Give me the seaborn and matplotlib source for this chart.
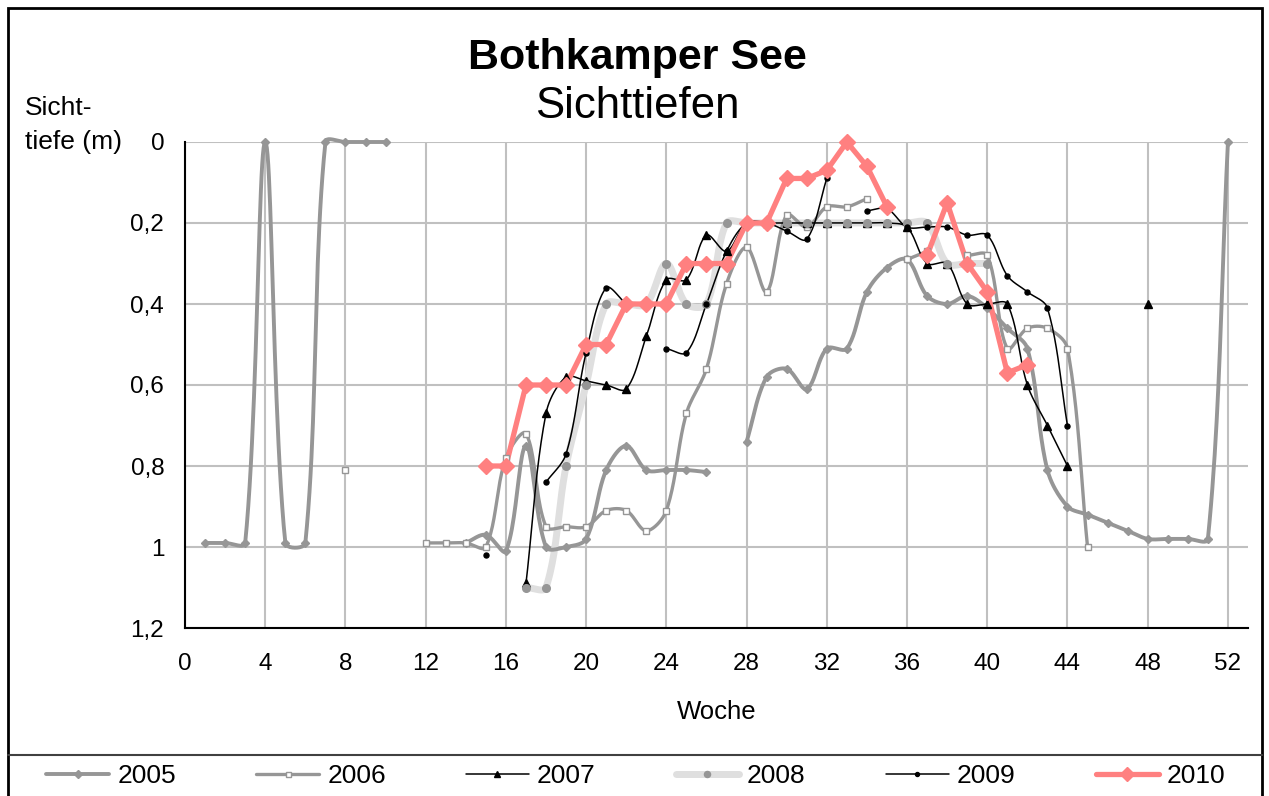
import numpy as np
import matplotlib
matplotlib.use("Agg")
import matplotlib.pyplot as plt
from matplotlib.lines import Line2D
from matplotlib.patches import Rectangle
from matplotlib.ticker import FuncFormatter
import seaborn as sns

# Sichttiefe (m) per Woche, Bothkamper See
weeks_2005 = [1, 2, 3, 4, 5, 6, 7, 8, 9, 10,
              14, 15, 16, 17, 18, 19, 20, 21, 22, 23, 24, 25, 26,
              28, 29, 30, 31, 32, 33, 34, 35, 36, 37, 38, 39, 40, 41, 42, 43, 44, 45, 46, 47, 48, 49, 50, 51, 52]
depth_2005 = [0.99, 0.99, 0.99, 0.0, 0.99, 0.99, 0.0, 0.0, 0.0, 0.0,
              0.99, 0.97, 1.01, 0.75, 1.0, 1.0, 0.98, 0.81, 0.75, 0.81, 0.81, 0.81, 0.815,
              0.74, 0.58, 0.56, 0.61, 0.51, 0.51, 0.37, 0.31, 0.29, 0.38, 0.40, 0.38, 0.41, 0.46, 0.51,
              0.81, 0.90, 0.92, 0.94, 0.96, 0.98, 0.98, 0.98, 0.98, 0.0]

weeks_2006 = [8, 12, 13, 14, 15, 16, 17, 18, 19, 20, 21, 22, 23, 24, 25, 26, 27, 28, 29, 30, 31, 32, 33, 34,
              36, 37, 39, 40, 41, 42, 43, 44, 45]
depth_2006 = [0.81, 0.99, 0.99, 0.99, 1.0, 0.78, 0.72, 0.95, 0.95, 0.95, 0.91, 0.91, 0.96, 0.91, 0.67, 0.56,
              0.35, 0.26, 0.37, 0.18, 0.21, 0.16, 0.16, 0.14,
              0.29, 0.27, 0.28, 0.28, 0.51, 0.46, 0.46, 0.51, 1.0]

weeks_2007 = [17, 18, 19, 20, 21, 22, 23, 24, 25, 26, 27, 28, 29, 30, 31, 32, 33, 34, 35, 36, 37, 38,
              39, 40, 41, 42, 43, 44, 48]
depth_2007 = [1.09, 0.67, 0.58, 0.59, 0.60, 0.61, 0.48, 0.34, 0.34, 0.23, 0.27, 0.20, 0.20, 0.20, 0.20,
              0.20, 0.20, 0.20, 0.20, 0.21, 0.30, 0.30, 0.40, 0.40, 0.40, 0.60, 0.70, 0.80, 0.40]

weeks_2008 = [17, 18, 19, 20, 21, 22, 23, 24, 25, 26, 27, 28, 29, 30, 31, 32, 33, 34, 35, 36, 37, 38, 39, 40]
depth_2008 = [1.1, 1.1, 0.8, 0.6, 0.4, 0.4, 0.4, 0.3, 0.4, 0.4, 0.2, 0.2, 0.2, 0.2, 0.2, 0.2, 0.2, 0.2,
              0.2, 0.2, 0.2, 0.3, 0.3, 0.3]

weeks_2009 = [15, 18, 19, 20, 21, 22, 24, 25, 26, 27, 28, 29, 30, 31, 32,
              34, 35, 36, 37, 38, 39, 40, 41, 42, 43, 44]
depth_2009 = [1.02, 0.84, 0.77, 0.52, 0.36, 0.40, 0.51, 0.52, 0.40, 0.27, 0.20, 0.20, 0.22, 0.24, 0.09,
              0.17, 0.165, 0.21, 0.21, 0.21, 0.23, 0.23, 0.33, 0.37, 0.41, 0.70]

weeks_2010 = [15, 16, 17, 18, 19, 20, 21, 22, 23, 24, 25, 26, 27, 28, 29, 30, 31, 32, 33, 34, 35,
              37, 38, 39, 40, 41, 42]
depth_2010 = [0.80, 0.80, 0.60, 0.60, 0.60, 0.50, 0.50, 0.40, 0.40, 0.40, 0.30, 0.30, 0.30, 0.20, 0.20,
              0.09, 0.09, 0.07, 0.0, 0.06, 0.16, 0.28, 0.15, 0.30, 0.37, 0.57, 0.55]

x_ticks = list(range(0, 53, 4))
y_ticks = [0, 0.2, 0.4, 0.6, 0.8, 1.0, 1.2]

GRAY = "#969696"
LIGHT = "#DFDFDF"
PINK = "#FF8080"


def segments(w, d):
    # split where weeks are missing
    w = np.asarray(w, float)
    d = np.asarray(d, float)
    cut = np.where(np.diff(w) > 1)[0] + 1
    return list(zip(np.split(w, cut), np.split(d, cut)))


def smooth(x, y, n=24, sx=20.06, sy=405.0):
    # excel-like smoothed line: bezier, control arms scaled by segment lengths (screen space)
    if len(x) < 2:
        return x, y
    P = np.column_stack([np.asarray(x) * sx, np.asarray(y) * sy])
    P = np.vstack([P[:1], P, P[-1:]])
    t = np.linspace(0, 1, n)[:, None]
    out = []
    for i in range(len(x) - 1):
        p0, p1, p2, p3 = P[i], P[i + 1], P[i + 2], P[i + 3]
        d01 = np.hypot(*(p1 - p0))
        d12 = np.hypot(*(p2 - p1))
        d23 = np.hypot(*(p3 - p2))
        f1 = d12 / (d01 + d12) if d01 + d12 > 0 else 0.5
        f2 = d12 / (d12 + d23) if d12 + d23 > 0 else 0.5
        b1 = p1 + (p2 - p0) * f1 / 3
        b2 = p2 - (p3 - p1) * f2 / 3
        out.append((1 - t) ** 3 * p1 + 3 * (1 - t) ** 2 * t * b1 + 3 * (1 - t) * t ** 2 * b2 + t ** 3 * p2)
    out = np.vstack(out)
    return out[:, 0] / sx, out[:, 1] / sy


sns.set_style("white")
plt.rcParams['font.family'] = ['Liberation Sans', 'DejaVu Sans']
plt.rcParams['text.color'] = 'black'
plt.rcParams['axes.labelcolor'] = 'black'
plt.rcParams['xtick.color'] = 'black'
plt.rcParams['ytick.color'] = 'black'

fig = plt.figure(figsize=(12.69, 7.96), dpi=100)
ax = fig.add_axes([185 / 1269, 1 - 628 / 796, (1248 - 185) / 1269, (628 - 142) / 796])

series = [
    # weeks, depth, line color, lw, smoothed, line z, marker, msize, mfc, mec, label
    (weeks_2005, depth_2005, GRAY, 2.8, True, 3, "D", 4.5, GRAY, GRAY, "2005"),
    (weeks_2006, depth_2006, GRAY, 2.4, True, 3, "s", 4.5, "white", GRAY, "2006"),
    (weeks_2007, depth_2007, "black", 1.1, True, 4, "^", 5.8, "black", "black", "2007"),
    (weeks_2008, depth_2008, LIGHT, 5.0, True, 2, "o", 5.5, GRAY, GRAY, "2008"),
    (weeks_2009, depth_2009, "black", 1.1, True, 4, "o", 3.6, "black", "black", "2009"),
    (weeks_2010, depth_2010, PINK, 3.8, False, 5, "D", 8.5, PINK, PINK, "2010"),
]

handles = []
for k, (w, d, col, lw, sm, z, mk, ms, mfc, mec, lab) in enumerate(series):
    for sx, sy in segments(w, d):
        if len(sx) < 2:
            continue
        lx, ly = smooth(sx, sy) if sm else (sx, sy)
        sns.lineplot(x=lx, y=ly, sort=False, estimator=None, color=col, lw=lw,
                     ax=ax, zorder=z, clip_on=False, legend=False)
    ax.plot(w, d, linestyle="none", marker=mk, markersize=ms, markerfacecolor=mfc,
            markeredgecolor=mec, markeredgewidth=1.0, zorder=6 + k, clip_on=False)
    handles.append(Line2D([], [], color=col, lw=lw, marker=mk, markersize=ms * 0.8,
                          markerfacecolor=mfc, markeredgecolor=mec, label=lab))

ax.set_xlim(0, 53)
ax.set_ylim(1.2, 0)
ax.set_xticks(x_ticks)
ax.set_yticks(y_ticks)
ax.yaxis.set_major_formatter(FuncFormatter(lambda v, p: ("%g" % round(v, 2)).replace(".", ",")))
ax.grid(True, color="#C0C0C0", lw=1.5)
ax.set_axisbelow(True)
for s in ["top", "right"]:
    ax.spines[s].set_visible(False)
for s in ["left", "bottom"]:
    ax.spines[s].set_color("black")
    ax.spines[s].set_linewidth(1.5)
    ax.spines[s].set_zorder(1)
ax.tick_params(axis="both", direction="out", length=5, width=1.2, color="black", labelsize=17.5)
ax.tick_params(axis="x", pad=13)
ax.tick_params(axis="y", pad=10)
ax.set_xlabel("Woche", fontsize=18.5, labelpad=18)

fig.text(0.502, 1 - 58 / 796, "Bothkamper See", ha="center", va="center", fontsize=31, fontweight="bold")
fig.text(0.502, 1 - 106 / 796, "Sichttiefen", ha="center", va="center", fontsize=31.5)
fig.text(25 / 1269, 1 - 108 / 796, "Sicht-", ha="left", va="center", fontsize=19)
fig.text(25 / 1269, 1 - 142 / 796, "tiefe (m)", ha="left", va="center", fontsize=19)

fig.legend(handles=handles, loc="center", bbox_to_anchor=(0.501, 1 - 776 / 796), ncol=6,
           frameon=False, fontsize=19, handlelength=2.4, columnspacing=3.03, handletextpad=0.3)

fig.add_artist(Rectangle((8 / 1269, -0.05), (1262 - 8) / 1269, 1.05 - 8 / 796, transform=fig.transFigure,
                         fill=False, edgecolor="black", lw=2))
fig.add_artist(Line2D([8 / 1269, 1262 / 1269], [1 - 755 / 796] * 2, transform=fig.transFigure,
                      color="#404040", lw=1.5))

fig.savefig("out.png", dpi=100)
